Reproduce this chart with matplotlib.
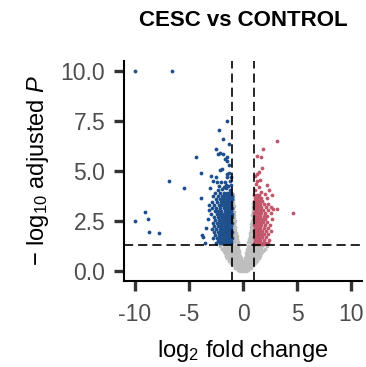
import matplotlib
matplotlib.use("Agg")
from matplotlib import pyplot as plt
import numpy as np

plt.rcParams["font.family"] = ["Liberation Sans", "DejaVu Sans"]
plt.rcParams["mathtext.fontset"] = "custom"
plt.rcParams["mathtext.rm"] = "Liberation Sans"
plt.rcParams["mathtext.it"] = "Liberation Sans:italic"
plt.rcParams["axes.unicode_minus"] = False

title = "CESC vs CONTROL"
fc_cutoff = 1.0
p_cutoff = 1.3  # -log10(0.05)

# scattered down-regulated genes (log2FC, -log10 padj)
down_x = [-10.0, -6.6, -1.48, -2.2, -1.82, -1.27, -2.53, -2.28, -1.82, -1.51, -1.64, -4.35,
          -2.1, -1.45, -1.3, -2.13, -1.95, -3.89, -1.48, -3.0, -2.5, -1.45, -6.85, -2.75,
          -2.4, -2.0, -1.7, -1.2, -5.49, -3.06, -2.35, -1.9, -1.6, -1.25, -3.92, -9.07,
          -10.03, -8.83, -8.7, -7.78, -3.83, -3.52, -3.15, -3.12, -3.43, -3.68, -3.2,
          -1.15, -1.35, -1.6, -1.1, -1.3, -1.75, -2.25]
down_y = [10.0, 10.0, 7.5, 7.05, 6.6, 6.35, 6.08, 5.85, 5.85, 5.69, 5.6, 5.69,
          5.88, 5.5, 5.3, 5.06, 5.1, 4.89, 4.86, 4.73, 4.69, 4.69, 4.48, 4.48,
          4.45, 4.45, 4.45, 4.5, 4.13, 4.14, 4.05, 4.1, 4.12, 4.05, 3.63, 2.94,
          2.49, 2.59, 1.97, 1.92, 1.79, 1.41, 3.28, 3.03, 2.17, 1.71, 2.6,
          4.3, 4.25, 4.3, 4.7, 4.9, 4.2, 4.25]

# dense down-regulated block, one row per -log10 padj level
down_rows = {
    3.9: [-2.6, -2.1, -1.8, -1.5, -1.3, -1.1],
    3.75: [-2.8, -2.3, -1.95, -1.65, -1.4, -1.2, -1.05],
    3.6: [-2.5, -2.15, -1.85, -1.6, -1.35, -1.15, -1.03],
    3.45: [-2.9, -2.4, -2.0, -1.75, -1.5, -1.3, -1.12],
    3.3: [-2.7, -2.25, -1.9, -1.65, -1.45, -1.25, -1.08],
    3.15: [-2.85, -2.5, -2.1, -1.8, -1.55, -1.35, -1.18, -1.04],
    3.0: [-2.6, -2.3, -2.0, -1.7, -1.5, -1.3, -1.12],
    2.85: [-2.95, -2.45, -2.15, -1.85, -1.6, -1.4, -1.22, -1.06],
    2.7: [-2.7, -2.35, -2.05, -1.78, -1.55, -1.35, -1.15, -1.02],
    2.55: [-2.55, -2.2, -1.95, -1.7, -1.48, -1.28, -1.1],
    2.4: [-2.8, -2.4, -2.1, -1.85, -1.62, -1.42, -1.22, -1.05],
    2.25: [-2.65, -2.3, -2.0, -1.75, -1.55, -1.35, -1.15],
    2.1: [-2.9, -2.5, -2.15, -1.9, -1.68, -1.45, -1.27, -1.08],
    1.95: [-2.7, -2.35, -2.05, -1.8, -1.58, -1.38, -1.18, -1.03],
    1.8: [-2.55, -2.2, -1.95, -1.72, -1.5, -1.3, -1.12],
    1.65: [-2.75, -2.4, -2.1, -1.85, -1.62, -1.42, -1.22, -1.05],
    1.5: [-2.3, -2.0, -1.78, -1.55, -1.35, -1.15],
    1.38: [-2.5, -2.15, -1.9, -1.68, -1.46, -1.26, -1.08],
}

up_x = [3.18, 1.82, 1.33, 1.64, 1.73, 1.48, 1.27, 1.11, 1.33, 1.57, 2.19, 2.41,
        2.65, 2.04, 4.66, 3.12, 2.56, 2.35, 2.81, 1.2, 1.45, 1.15, 1.7]
up_y = [6.47, 6.09, 5.75, 5.69, 5.16, 4.94, 4.83, 4.73, 4.49, 4.53, 4.28, 4.06,
        3.78, 3.83, 2.92, 3.12, 3.2, 3.37, 3.12, 4.35, 4.2, 4.05, 3.95]

up_rows = {
    3.8: [1.05, 1.25, 1.5],
    3.65: [1.1, 1.35, 1.7, 2.2],
    3.5: [1.03, 1.2, 1.45, 1.8],
    3.35: [1.08, 1.3, 1.6, 1.95],
    3.2: [1.02, 1.18, 1.4, 1.7, 2.1],
    3.05: [1.1, 1.3, 1.55, 1.85, 2.3],
    2.9: [1.04, 1.22, 1.45, 1.7, 2.0, 2.6],
    2.75: [1.12, 1.35, 1.6, 1.9, 2.25],
    2.6: [1.02, 1.2, 1.45, 1.75, 2.05, 2.7],
    2.45: [1.1, 1.3, 1.55, 1.85, 2.2],
    2.3: [1.03, 1.22, 1.45, 1.7, 2.0, 2.45],
    2.15: [1.12, 1.35, 1.6, 1.9, 2.3],
    2.0: [1.05, 1.25, 1.5, 1.8, 2.1, 2.55],
    1.85: [1.15, 1.38, 1.65, 1.95, 2.35],
    1.7: [1.03, 1.25, 1.5, 1.8, 2.15],
    1.55: [1.12, 1.35, 1.6, 1.9, 2.4],
    1.42: [1.05, 1.25, 1.5, 1.75, 2.05, 2.3],
    1.33: [1.15, 1.4, 1.65, 1.95],
}

# not significant genes
ns_rows = {
    3.85: [-0.97],
    3.7: [-0.94],
    3.55: [-0.98, -0.9],
    3.4: [-0.95, 0.96],
    3.25: [-0.97, -0.88, 0.93],
    3.1: [-0.93, 0.97, 0.9],
    2.95: [-0.97, -0.86, 0.88, 0.96],
    2.8: [-0.92, -0.82, 0.85, 0.95],
    2.65: [-0.96, -0.85, 0.9, 0.98],
    2.5: [-0.9, -0.78, 0.82, 0.93],
    2.35: [-0.97, -0.84, 0.77, 0.88, 0.97],
    2.2: [-0.92, -0.78, 0.72, 0.84, 0.95],
    2.05: [-0.96, -0.85, -0.72, 0.7, 0.8, 0.92],
    1.9: [-0.9, -0.78, -0.66, 0.65, 0.77, 0.9, 0.98],
    1.75: [-0.95, -0.83, -0.7, -0.6, 0.6, 0.72, 0.85, 0.95],
    1.6: [-0.9, -0.77, -0.65, -0.55, 0.55, 0.67, 0.8, 0.93],
    1.45: [-0.96, -0.83, -0.7, -0.58, -0.5, 0.5, 0.62, 0.75, 0.87, 0.97],
    1.25: [-2.1, -1.8, -1.55, -1.3, -1.1, -0.9, -0.75, -0.6, -0.48, 0.45, 0.58, 0.72,
           0.88, 1.05, 1.25, 1.5, 1.8, 2.2],
    1.12: [-1.95, -1.65, -1.4, -1.2, -1.0, -0.85, -0.7, -0.55, -0.42, 0.4, 0.52, 0.66,
           0.8, 0.95, 1.15, 1.4, 1.7, 2.0],
    1.0: [-1.8, -1.55, -1.32, -1.12, -0.95, -0.8, -0.65, -0.5, -0.38, 0.36, 0.48, 0.62,
          0.76, 0.9, 1.08, 1.3, 1.55, 1.85],
    0.88: [-1.7, -1.45, -1.25, -1.05, -0.88, -0.72, -0.58, -0.45, -0.33, 0.3, 0.42, 0.56,
           0.7, 0.85, 1.0, 1.2, 1.45, 1.7],
    0.76: [-1.6, -1.35, -1.15, -0.97, -0.8, -0.65, -0.5, -0.38, -0.27, 0.25, 0.36, 0.5,
           0.64, 0.78, 0.95, 1.12, 1.35, 1.6],
    0.64: [-1.45, -1.22, -1.05, -0.88, -0.72, -0.57, -0.43, -0.3, -0.18, 0.16, 0.28, 0.42,
           0.56, 0.7, 0.86, 1.02, 1.22, 1.45],
    0.52: [-1.3, -1.1, -0.93, -0.77, -0.62, -0.48, -0.35, -0.22, -0.1, 0.0, 0.1, 0.22,
           0.35, 0.48, 0.62, 0.77, 0.93, 1.1, 1.3],
    0.4: [-1.15, -0.97, -0.8, -0.65, -0.5, -0.37, -0.25, -0.12, 0.0, 0.12, 0.25, 0.37,
          0.5, 0.65, 0.8, 0.97, 1.15],
    0.28: [-0.95, -0.78, -0.62, -0.47, -0.33, -0.2, -0.07, 0.06, 0.2, 0.33, 0.47, 0.62,
           0.78, 0.95],
    0.16: [-0.75, -0.58, -0.42, -0.27, -0.13, 0.0, 0.13, 0.27, 0.42, 0.58, 0.75],
    0.05: [-0.5, -0.33, -0.17, 0.0, 0.17, 0.33, 0.5],
    0.0: [-0.25, 0.0, 0.25],
}

x_ticks = [-10, -5, 0, 5, 10]
y_ticks = [0.0, 2.5, 5.0, 7.5, 10.0]


def flatten(rows):
    xs, ys = [], []
    for y, row in rows.items():
        xs += row
        ys += [y] * len(row)
    return np.array(xs), np.array(ys)


ns_x, ns_y = flatten(ns_rows)
dn_x, dn_y = flatten(down_rows)
upr_x, upr_y = flatten(up_rows)
dn_x = np.concatenate([down_x, dn_x])
dn_y = np.concatenate([down_y, dn_y])
upr_x = np.concatenate([up_x, upr_x])
upr_y = np.concatenate([up_y, upr_y])

fig = plt.figure(figsize=(3.66, 3.67), dpi=100)
ax = fig.add_axes([0.339, 0.234, 0.650, 0.601])

ms = 7.5
ax.scatter(ns_x, ns_y, s=ms, color="#bebebe", linewidths=0, zorder=2)
ax.scatter(dn_x, dn_y, s=ms, color="#1d4f8d", linewidths=0, zorder=2)
ax.scatter(upr_x, upr_y, s=ms, color="#c2566b", linewidths=0, zorder=2)

dash = (0, (5.5, 3))
ax.axvline(-fc_cutoff, color="black", lw=1.2, linestyle=dash, zorder=3)
ax.axvline(fc_cutoff, color="black", lw=1.2, linestyle=dash, zorder=3)
ax.axhline(p_cutoff, color="black", lw=1.2, linestyle=dash, zorder=3)

ax.set_xlim(-11, 11)
ax.set_ylim(-0.5, 10.5)
ax.set_xticks(x_ticks)
ax.set_xticklabels([str(t) for t in x_ticks])
ax.set_yticks(y_ticks)
ax.set_yticklabels([f"{t:.1f}" for t in y_ticks])

for side in ["top", "right"]:
    ax.spines[side].set_visible(False)
for side in ["left", "bottom"]:
    ax.spines[side].set_linewidth(1.5)
    ax.spines[side].set_color("black")
ax.tick_params(axis="both", length=7.5, width=2.4, color="#333333",
               labelcolor="#4d4d4d", labelsize=16.5, pad=6)
ax.tick_params(axis="x", pad=8)

ax.set_xlabel(r"log$_2$ fold change", fontsize=17, labelpad=9)
ax.set_ylabel(r"$-$ log$_{10}$ adjusted $\it{P}$", fontsize=17, labelpad=7)
ax.set_title(title, fontsize=16, fontweight="bold", pad=25)

plt.savefig("out.png", dpi=100)
